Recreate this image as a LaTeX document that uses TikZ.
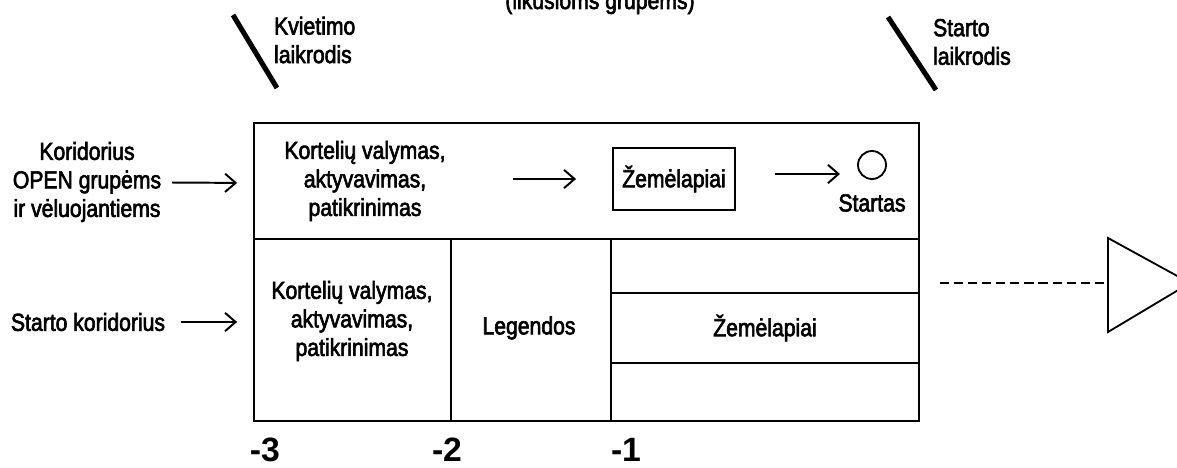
\documentclass[tikz,border=0pt]{standalone}
\usepackage{fontspec}
\setmainfont{Liberation Sans}[FakeStretch=0.86,FakeBold=2.5]
\newfontfamily\numfont{Liberation Sans}
\usetikzlibrary{arrows.meta,positioning}

\begin{document}
\begin{tikzpicture}[x=0.025cm,y=-0.025cm,line width=1.6pt,
 every node/.style={font=\fontsize{17.5}{20.3}\selectfont,align=center,inner sep=0pt},
 arr/.style={-{Straight Barb[length=7.5pt,width=13pt]},line width=1.4pt},
 num/.style={font=\fontsize{24}{26}\selectfont\numfont\bfseries},
 clock/.style={line width=3.6pt},
 dashline/.style={line width=2.1pt,dash pattern=on 6.5pt off 3.5pt},
 thin/.style={line width=1.3pt}]
 \clip (0,0) rectangle (1177,467);
 \node [anchor=base] (rest) at (600,9) {(likusioms grupėms)};
 \draw [clock] (233,15) -- (277,88);
 \node [anchor=west,align=left] (kviet) at (273,40) {Kvietimo\\laikrodis};
 \draw [clock] (888,17) -- (936,90);
 \node [anchor=west,align=left] (startclk) at (932,42) {Starto\\laikrodis};

 \draw (254,123) rectangle (919,421);
 \draw (254,239) -- (919,239);
 \draw (451,239) -- (451,421);
 \draw (611,239) -- (611,421);
 \draw (611,293) -- (919,293);
 \draw (611,363) -- (919,363);
 \coordinate (in1) at (254,183);
 \coordinate (in2) at (254,322);

 \node (kor) at (87,182) {Koridorius\\OPEN grupėms\\ir vėluojantiems};
 \node (chk1) at (365,181) {Kortelių valymas,\\aktyvavimas,\\patikrinimas};
 \node [draw,thin,minimum width=3.05cm,minimum height=1.55cm] (map1) at (674,179) {Žemėlapiai};
 \node [draw,thin,circle,minimum size=0.7cm] (start) at (872,165) {};
 \node [below=0.33cm of start] (startas) {Startas};
 \coordinate (a2) at (840,174);
 \draw [arr,shorten <=7pt,shorten >=12pt] (kor) -- (in1);
 \draw [arr,shorten <=47pt,shorten >=25.6pt] (chk1.east |- map1.west) -- (map1.west);
 \draw [arr,shorten <=27.7pt] (map1.east |- a2) -- (a2);

 \node (kor2) at (88,322) {Starto koridorius};
 \node (chk2) at (352,321) {Kortelių valymas,\\aktyvavimas,\\patikrinimas};
 \node (leg) at (529,328) {Legendos};
 \node (map2) at (765,328) {Žemėlapiai};
 \draw [arr,shorten <=10.7pt,shorten >=12pt] (kor2) -- (in2);

 \node [num] (m3) at (265,450) {-3};
 \node [num] (m2) at (447,450) {-2};
 \node [num] (m1) at (626,450) {-1};

 \coordinate (d1) at (940,283);
 \coordinate (tri) at (1108,283);
 \draw [dashline] (d1) -- (tri);
 \draw [thin,line join=miter] (1108,238) -- (1108,332) -- (1190,283) -- cycle;
\end{tikzpicture}
\end{document}
